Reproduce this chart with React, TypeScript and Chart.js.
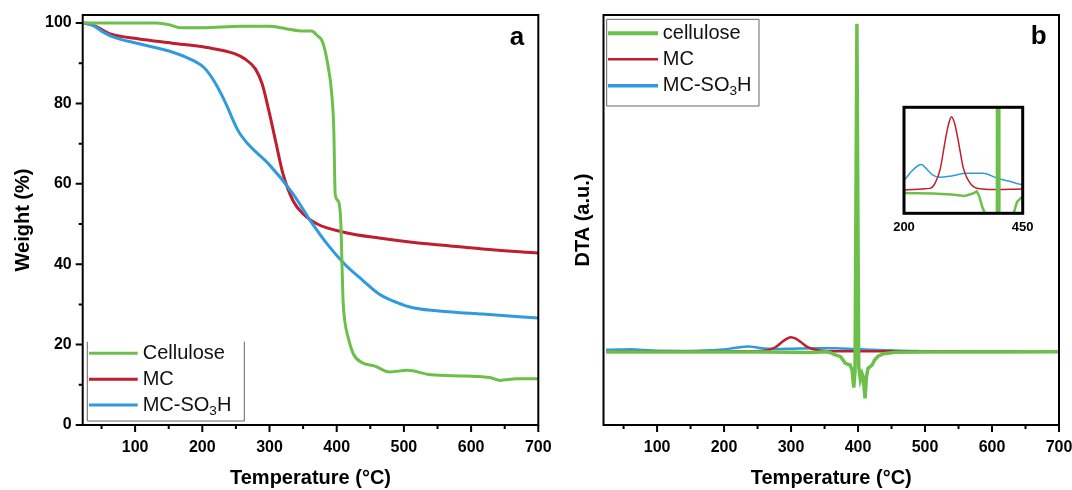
import React, { useEffect, useRef } from 'react';
import { Chart, registerables } from 'chart.js';

Chart.register(...registerables);

const FONT = "'Liberation Sans', Arial, Helvetica, sans-serif";
const GREEN = '#6cc04a';
const RED = '#be1e2d';
const BLUE = '#2f9bde';

// ---------- labels / ticks ----------
const tgaLabels = ['Cellulose', 'MC', 'MC-SO3H'];
const dtaLabels = ['cellulose', 'MC', 'MC-SO3H'];
const tempMajorTicks = [100, 200, 300, 400, 500, 600, 700];
const tempMinorTicks = [50, 150, 250, 350, 450, 550, 650];
const weightMajorTicks = [0, 20, 40, 60, 80, 100];
const weightMinorTicks = [10, 30, 50, 70, 90];
const insetTicks = [200, 450];

// ---------- TGA (panel a) ----------
const tgaCelluloseT = [24, 60, 100, 132, 150, 168, 200, 258, 299, 325, 350, 363, 371, 379, 386.5, 392.6, 395.7, 397.7, 401.9, 406, 408, 409.5, 412, 417, 425, 438, 456, 479, 505, 540, 592, 628, 643, 668, 700];
const tgaCelluloseW = [100, 100, 100, 100, 99.6, 98.8, 98.8, 99.2, 99.2, 98.6, 98, 98, 96.9, 95.3, 89.9, 82.4, 73.3, 57.5, 55.8, 50.8, 39.2, 30.9, 25.9, 21.8, 17.6, 15.5, 14.7, 13.2, 13.6, 12.5, 12.2, 11.8, 11.1, 11.5, 11.5];

const tgaMcT = [24, 40, 63, 104, 155, 207, 248, 263, 279, 289, 299, 310, 320, 335, 350, 371, 412, 463, 515, 566, 617, 700];
const tgaMcW = [100, 99.3, 97.3, 96.1, 95.0, 93.9, 92.4, 91.1, 88.6, 84.9, 78.2, 69.9, 62.5, 55.8, 52.5, 50.0, 47.9, 46.5, 45.4, 44.6, 43.8, 42.8];

const tgaMcSo3hT = [24, 37, 50, 68, 104, 155, 181, 202, 217, 233, 253, 268, 299, 335, 361, 386, 412, 438, 463, 489, 515, 566, 617, 700];
const tgaMcSo3hW = [100, 99.4, 98, 96.5, 94.9, 92.8, 91.1, 89.0, 85.7, 80.7, 73.3, 69.9, 64.9, 57.5, 50.8, 45.0, 40.0, 36.1, 32.6, 30.5, 29.1, 28.2, 27.6, 26.6];

// ---------- DTA (panel b, a.u.) ----------
const dtaCelluloseT = [24, 100, 200, 260, 300, 328, 345, 353, 358, 365, 374, 381, 388, 391, 393.6, 395.5, 398.3, 401, 403.5, 406, 407.5, 410.5, 412.5, 415, 421, 425, 430, 438, 447, 455, 500, 600, 700];
const dtaCelluloseV = [-0.4, -0.3, -0.3, -0.4, -0.6, -0.85, -0.4, 0, -0.8, -3.0, -5.0, -11.6, -13.3, -18, -36, -20, 328, -15, -28, -22, -25, -46.6, -25, -16.6, -13.3, -8, -4.5, -2, -1.2, -0.6, -0.4, -0.4, 0];

const dtaMcT = [24, 100, 200, 240, 255, 265, 276, 287, 294, 300, 307, 314, 325, 342, 364, 400, 450, 500, 600, 700];
const dtaMcV = [0.3, 0.2, 0.3, 0.5, 0.6, 1.5, 4.2, 9.9, 13.0, 14.4, 13.0, 9.9, 4.5, 1.3, 0.5, 0.4, 0.5, 0.1, 0, 0];

const dtaMcSo3hT = [24, 45, 60, 80, 100, 150, 180, 200, 215, 230, 237, 245, 260, 275, 300, 332, 367, 395, 420, 444, 480, 500, 550, 700];
const dtaMcSo3hV = [2.0, 2.2, 2.4, 1.6, 0.9, 0.8, 1.4, 2.2, 3.8, 5.0, 5.2, 4.6, 3.2, 2.75, 3.0, 3.5, 3.5, 2.6, 2.0, 1.4, 0.8, 0.4, 0.1, 0];

type Pt = { x: number; y: number };
const zip = (xs: number[], ys: number[]): Pt[] => xs.map((x, i) => ({ x, y: ys[i] }));

function drawRichText(ctx: CanvasRenderingContext2D, text: string, x: number, y: number, size: number) {
  const parts = text.split(/(\d)/).filter((p) => p !== '');
  let cx = x;
  ctx.textBaseline = 'middle';
  ctx.textAlign = 'left';
  for (const p of parts) {
    const sub = /^\d$/.test(p);
    const fs = sub ? size * 0.68 : size;
    ctx.font = `normal ${fs}px ${FONT}`;
    ctx.fillText(p, cx, sub ? y + size * 0.3 : y);
    cx += ctx.measureText(p).width;
  }
}

type LegendCfg = {
  box: [number, number, number, number];
  topBorder: boolean;
  rows: number[];
  lineX: [number, number];
  textX: number;
  size: number;
  widths: number[];
  colors: string[];
  labels: string[];
};

type DecoCfg = {
  frameWidth: number;
  xMajor: number[];
  xMinor: number[];
  yMajor: number[];
  yMinor: number[];
  letter?: { text: string; x: number; y: number };
  legend?: LegendCfg;
};

const makeDeco = (cfg: DecoCfg) => ({
  id: 'deco',
  afterDraw(chart: any) {
    const { ctx, chartArea: a, scales } = chart;
    ctx.save();
    ctx.strokeStyle = '#000';
    ctx.lineWidth = 2;
    ctx.beginPath();
    for (const v of cfg.xMajor) {
      const px = scales.x.getPixelForValue(v);
      ctx.moveTo(px, a.bottom);
      ctx.lineTo(px, a.bottom + 7);
    }
    for (const v of cfg.xMinor) {
      const px = scales.x.getPixelForValue(v);
      ctx.moveTo(px, a.bottom);
      ctx.lineTo(px, a.bottom + 4);
    }
    for (const v of cfg.yMajor) {
      const py = scales.y.getPixelForValue(v);
      ctx.moveTo(a.left, py);
      ctx.lineTo(a.left - 7, py);
    }
    for (const v of cfg.yMinor) {
      const py = scales.y.getPixelForValue(v);
      ctx.moveTo(a.left, py);
      ctx.lineTo(a.left - 4, py);
    }
    ctx.stroke();
    ctx.lineWidth = cfg.frameWidth;
    ctx.strokeRect(a.left, a.top, a.right - a.left, a.bottom - a.top);

    if (cfg.letter) {
      ctx.fillStyle = '#000';
      ctx.font = `bold 26px ${FONT}`;
      ctx.textAlign = 'center';
      ctx.textBaseline = 'alphabetic';
      ctx.fillText(cfg.letter.text, cfg.letter.x, cfg.letter.y);
    }
    const lg = cfg.legend;
    if (lg) {
      const [x0, y0, x1, y1] = lg.box;
      ctx.strokeStyle = '#666';
      ctx.lineWidth = 1;
      ctx.beginPath();
      if (lg.topBorder) {
        ctx.rect(x0, y0, x1 - x0, y1 - y0);
      } else {
        ctx.moveTo(x0, y0);
        ctx.lineTo(x0, y1);
        ctx.lineTo(x1, y1);
        ctx.lineTo(x1, y0);
      }
      ctx.stroke();
      lg.rows.forEach((ry, i) => {
        ctx.strokeStyle = lg.colors[i];
        ctx.lineWidth = lg.widths[i];
        ctx.beginPath();
        ctx.moveTo(lg.lineX[0], ry);
        ctx.lineTo(lg.lineX[1], ry);
        ctx.stroke();
        ctx.fillStyle = '#111';
        drawRichText(ctx, lg.labels[i], lg.textX, ry, lg.size);
      });
    }
    ctx.restore();
  },
});

function ChartCanvas({ make, left, top, width, height }: { make: (c: HTMLCanvasElement) => Chart; left: number; top: number; width: number; height: number }) {
  const ref = useRef<HTMLCanvasElement | null>(null);
  useEffect(() => {
    if (!ref.current) return;
    const ch = make(ref.current);
    return () => ch.destroy();
  }, []);
  return (
    <canvas
      ref={ref}
      width={width}
      height={height}
      style={{ position: 'absolute', left, top, width, height }}
    />
  );
}

const tickFont = { family: FONT, size: 16, weight: 'bold' as const };
const titleFont = { family: FONT, size: 20, weight: 'bold' as const };

const fixHeight = (h: number) => (s: any) => {
  s.height = h;
  s.paddingLeft = 0;
  s.paddingRight = 0;
};
const fixWidth = (w: number) => (s: any) => {
  s.width = w;
  s.paddingTop = 0;
  s.paddingBottom = 0;
};

function makeTga(canvas: HTMLCanvasElement) {
  return new Chart(canvas, {
    type: 'line',
    data: {
      datasets: [
        { label: tgaLabels[0], data: zip(tgaCelluloseT, tgaCelluloseW), borderColor: GREEN, borderWidth: 3, order: 0 },
        { label: tgaLabels[1], data: zip(tgaMcT, tgaMcW), borderColor: RED, borderWidth: 3, order: 2 },
        { label: tgaLabels[2], data: zip(tgaMcSo3hT, tgaMcSo3hW), borderColor: BLUE, borderWidth: 3, order: 1 },
      ],
    },
    options: {
      animation: false,
      responsive: false,
      devicePixelRatio: 1,
      layout: { padding: { left: 0, top: 15, right: 21.7, bottom: 0 } },
      elements: { point: { radius: 0 }, line: { cubicInterpolationMode: 'monotone', fill: false } },
      plugins: { legend: { display: false }, tooltip: { enabled: false } },
      scales: {
        x: {
          type: 'linear',
          min: 22,
          max: 700,
          afterBuildTicks: (s: any) => { s.ticks = tempMajorTicks.map((v) => ({ value: v })); },
          afterFit: fixHeight(65),
          grid: { display: false, drawTicks: false },
          border: { display: false },
          ticks: { padding: 13, color: '#000', font: tickFont, maxRotation: 0, autoSkip: false },
          title: { display: true, text: 'Temperature (°C)', color: '#000', font: titleFont, padding: { top: 0, bottom: 0 } },
        },
        y: {
          type: 'linear',
          min: 0,
          max: 102,
          afterBuildTicks: (s: any) => { s.ticks = weightMajorTicks.map((v) => ({ value: v })); },
          afterFit: fixWidth(82.7),
          grid: { display: false, drawTicks: false },
          border: { display: false },
          ticks: { padding: 11, color: '#000', font: tickFont },
          title: { display: true, text: 'Weight (%)', color: '#000', font: titleFont, padding: { top: 11.3, bottom: 0 } },
        },
      },
    } as any,
    plugins: [
      makeDeco({
        frameWidth: 2,
        xMajor: tempMajorTicks,
        xMinor: tempMinorTicks,
        yMajor: weightMajorTicks,
        yMinor: weightMinorTicks,
        letter: { text: 'a', x: 517, y: 45 },
        legend: {
          box: [87.3, 341.7, 244.3, 421],
          topBorder: false,
          rows: [353.3, 379.3, 405],
          lineX: [89, 137.7],
          textX: 142.7,
          size: 20,
          widths: [3, 3, 3],
          colors: [GREEN, RED, BLUE],
          labels: tgaLabels,
        },
      }),
    ],
  });
}

const RIGHT_LEFT = 560;

function makeDta(canvas: HTMLCanvasElement) {
  const o = RIGHT_LEFT;
  return new Chart(canvas, {
    type: 'line',
    data: {
      datasets: [
        { label: dtaLabels[0], data: zip(dtaCelluloseT, dtaCelluloseV), borderColor: GREEN, borderWidth: 3.5, tension: 0, cubicInterpolationMode: 'default', order: 0 },
        { label: dtaLabels[1], data: zip(dtaMcT, dtaMcV), borderColor: RED, borderWidth: 2.5, order: 1 },
        { label: dtaLabels[2], data: zip(dtaMcSo3hT, dtaMcSo3hV), borderColor: BLUE, borderWidth: 2.5, order: 2 },
      ],
    },
    options: {
      animation: false,
      responsive: false,
      devicePixelRatio: 1,
      layout: { padding: { left: 0, top: 15, right: 13, bottom: 0 } },
      elements: { point: { radius: 0 }, line: { cubicInterpolationMode: 'monotone', fill: false } },
      plugins: { legend: { display: false }, tooltip: { enabled: false } },
      scales: {
        x: {
          type: 'linear',
          min: 20,
          max: 700,
          afterBuildTicks: (s: any) => { s.ticks = tempMajorTicks.map((v) => ({ value: v })); },
          afterFit: fixHeight(65),
          grid: { display: false, drawTicks: false },
          border: { display: false },
          ticks: { padding: 13, color: '#000', font: tickFont, maxRotation: 0, autoSkip: false },
          title: { display: true, text: 'Temperature (°C)', color: '#000', font: titleFont, padding: { top: 0, bottom: 0 } },
        },
        y: {
          type: 'linear',
          min: -73.3,
          max: 336.7,
          afterFit: fixWidth(43.5),
          grid: { display: false, drawTicks: false },
          border: { display: false },
          ticks: { display: false },
          title: { display: true, text: 'DTA (a.u.)', color: '#000', font: titleFont, padding: { top: 11.3, bottom: 0 } },
        },
      },
    } as any,
    plugins: [
      makeDeco({
        frameWidth: 2,
        xMajor: tempMajorTicks,
        xMinor: tempMinorTicks,
        yMajor: [],
        yMinor: [],
        letter: { text: 'b', x: 1038.8 - o, y: 44.3 },
        legend: {
          box: [606.7 - o, 19.3, 759 - o, 106],
          topBorder: true,
          rows: [33.3, 59.3, 85.7],
          lineX: [608 - o, 658 - o],
          textX: 662.8 - o,
          size: 20,
          widths: [4, 2.5, 3.5],
          colors: [GREEN, RED, BLUE],
          labels: dtaLabels,
        },
      }),
    ],
  });
}

function makeInset(canvas: HTMLCanvasElement) {
  return new Chart(canvas, {
    type: 'line',
    data: {
      datasets: [
        { label: dtaLabels[0], data: zip(dtaCelluloseT, dtaCelluloseV), borderColor: GREEN, borderWidth: 2.5, tension: 0, cubicInterpolationMode: 'default', order: 0 },
        { label: dtaLabels[1], data: zip(dtaMcT, dtaMcV), borderColor: RED, borderWidth: 1.5, order: 1 },
        { label: dtaLabels[2], data: zip(dtaMcSo3hT, dtaMcSo3hV), borderColor: BLUE, borderWidth: 1.5, order: 2 },
      ],
    },
    options: {
      animation: false,
      responsive: false,
      devicePixelRatio: 1,
      layout: { padding: { left: 14, top: 12.3, right: 17.3, bottom: 0 } },
      elements: { point: { radius: 0 }, line: { cubicInterpolationMode: 'monotone', fill: false } },
      plugins: { legend: { display: false }, tooltip: { enabled: false } },
      scales: {
        x: {
          type: 'linear',
          min: 200,
          max: 450,
          afterBuildTicks: (s: any) => { s.ticks = insetTicks.map((v) => ({ value: v })); },
          afterFit: fixHeight(26.7),
          grid: { display: false, drawTicks: false },
          border: { display: false },
          ticks: { padding: 6, color: '#000', font: { family: FONT, size: 13, weight: 'bold' }, maxRotation: 0, autoSkip: false },
        },
        y: { type: 'linear', display: false, min: -4.2, max: 16.2 },
      },
    } as any,
    plugins: [
      makeDeco({ frameWidth: 3, xMajor: [], xMinor: [], yMajor: [], yMinor: [] }),
    ],
  });
}

export default function App() {
  useEffect(() => {
    document.body.style.margin = '0';
  }, []);
  return (
    <div style={{ position: 'fixed', left: 0, top: 0, width: 1072, height: 490, background: '#fff', overflow: 'hidden' }}>
      <ChartCanvas make={makeTga} left={0} top={0} width={RIGHT_LEFT} height={490} />
      <ChartCanvas make={makeDta} left={RIGHT_LEFT} top={0} width={1072 - RIGHT_LEFT} height={490} />
      <ChartCanvas make={makeInset} left={890} top={95} width={150} height={145} />
    </div>
  );
}
